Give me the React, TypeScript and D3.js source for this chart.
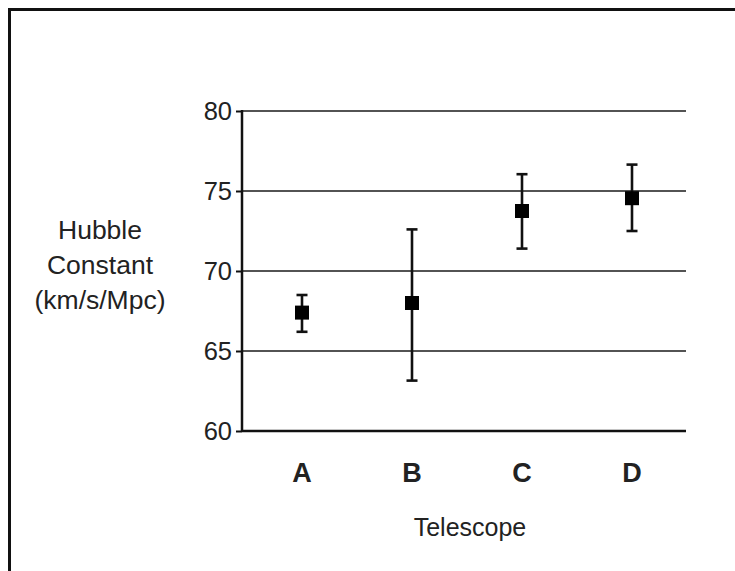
import { useEffect, useRef } from 'react';
import * as d3 from 'd3';

const telescopes = ['A', 'B', 'C', 'D'];
const hubbleValues = [67.4, 68.0, 73.75, 74.55];
const errLow = [66.2, 63.15, 71.4, 72.5];
const errHigh = [68.5, 72.6, 76.05, 76.65];
const yTicks = [60, 65, 70, 75, 80];
const yLabelLines = ['Hubble', 'Constant', '(km/s/Mpc)'];

const App = () => {
  const svgRef = useRef<SVGSVGElement>(null);

  useEffect(() => {
    const svg = d3.select(svgRef.current);
    svg.selectAll('*').remove();
    const font = 'Liberation Sans, Arial, Helvetica, sans-serif';

    // outer frame (runs off the right and bottom edge)
    svg.append('rect')
      .attr('x', 9.5).attr('y', 9.5)
      .attr('width', 760).attr('height', 600)
      .attr('fill', 'none').attr('stroke', '#111').attr('stroke-width', 3);

    const x = d3.scalePoint().domain(telescopes).range([302, 632]);
    const y = d3.scaleLinear().domain([60, 80]).range([431, 111]);
    const left = 242;
    const right = 686;

    // gridlines
    svg.append('g')
      .selectAll('line')
      .data(yTicks.filter(d => d !== 60))
      .join('line')
      .attr('x1', left).attr('x2', right)
      .attr('y1', d => y(d)).attr('y2', d => y(d))
      .attr('stroke', '#1a1a1a').attr('stroke-width', 1.5);

    // y axis
    const yAxis = svg.append('g')
      .attr('transform', `translate(${left},0)`)
      .call(d3.axisLeft(y).tickValues(yTicks).tickSize(6).tickPadding(4));
    yAxis.select('.domain').remove();
    yAxis.selectAll('line').attr('stroke', '#111').attr('stroke-width', 2);
    yAxis.selectAll('text')
      .attr('font-family', font).attr('font-size', 25.5).attr('fill', '#222');

    svg.append('line')
      .attr('x1', left).attr('x2', left).attr('y1', y(80) - 1).attr('y2', y(60) + 1)
      .attr('stroke', '#111').attr('stroke-width', 2.5);
    svg.append('line')
      .attr('x1', left).attr('x2', right).attr('y1', y(60)).attr('y2', y(60))
      .attr('stroke', '#111').attr('stroke-width', 2.5);

    // error bars
    const pts = svg.append('g')
      .selectAll('g')
      .data(telescopes)
      .join('g');
    pts.append('line')
      .attr('x1', d => x(d)!).attr('x2', d => x(d)!)
      .attr('y1', (_, i) => y(errLow[i])).attr('y2', (_, i) => y(errHigh[i]))
      .attr('stroke', '#111').attr('stroke-width', 2.6);
    [errLow, errHigh].forEach(arr => {
      pts.append('line')
        .attr('x1', d => x(d)! - 5.5).attr('x2', d => x(d)! + 5.5)
        .attr('y1', (_, i) => y(arr[i])).attr('y2', (_, i) => y(arr[i]))
        .attr('stroke', '#111').attr('stroke-width', 2.6);
    });
    pts.append('rect')
      .attr('x', d => x(d)! - 7).attr('y', (_, i) => y(hubbleValues[i]) - 7)
      .attr('width', 14).attr('height', 14)
      .attr('fill', '#000');

    // category labels
    svg.append('g')
      .selectAll('text')
      .data(telescopes)
      .join('text')
      .attr('x', d => x(d)!).attr('y', 482)
      .attr('text-anchor', 'middle')
      .attr('font-family', font).attr('font-size', 27).attr('font-weight', 'bold')
      .attr('fill', '#222')
      .text(d => d);

    svg.append('text')
      .attr('x', 470).attr('y', 536)
      .attr('text-anchor', 'middle')
      .attr('font-family', font).attr('font-size', 25).attr('fill', '#222')
      .text('Telescope');

    svg.append('g')
      .selectAll('text')
      .data(yLabelLines)
      .join('text')
      .attr('x', 100).attr('y', (_, i) => 239 + i * 35)
      .attr('text-anchor', 'middle')
      .attr('font-family', font).attr('font-size', 26.5).attr('fill', '#222')
      .text(d => d);
  }, []);

  return (
    <svg
      ref={svgRef}
      width={735}
      height={571}
      style={{ position: 'absolute', left: 0, top: 0, background: '#fff' }}
    />
  );
};

export default App;
